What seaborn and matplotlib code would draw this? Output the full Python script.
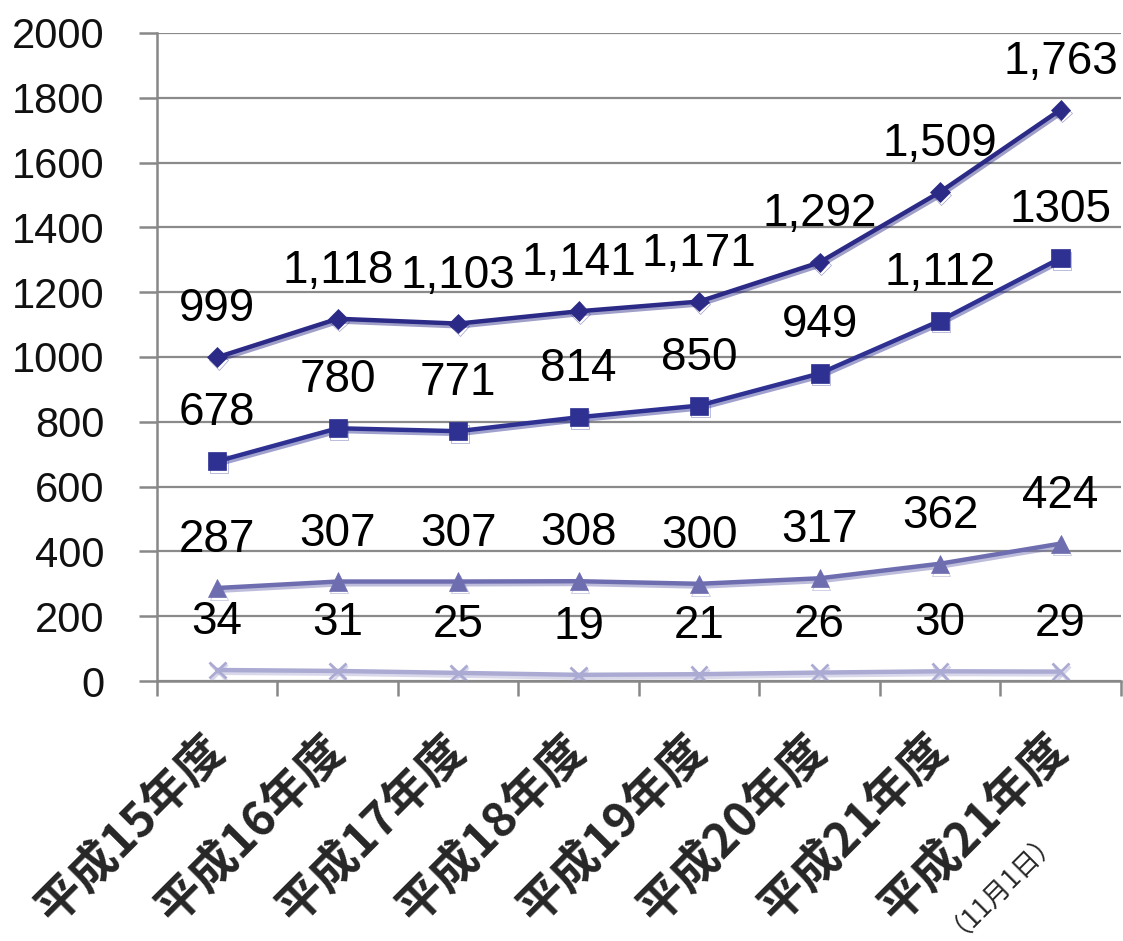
import matplotlib
matplotlib.use("Agg")
import matplotlib.pyplot as plt
import matplotlib.patheffects as pe
from matplotlib.ticker import FixedLocator
import seaborn as sns
import numpy as np

categories = ["平成15年度", "平成16年度", "平成17年度", "平成18年度",
              "平成19年度", "平成20年度", "平成21年度", "平成21年度"]
last_note = "（11月1日）"

series_a = [999, 1118, 1103, 1141, 1171, 1292, 1509, 1763]
series_b = [678, 780, 771, 814, 850, 949, 1112, 1305]
series_c = [287, 307, 307, 308, 300, 317, 362, 424]
series_d = [34, 31, 25, 19, 21, 26, 30, 29]

labels_a = ["999", "1,118", "1,103", "1,141", "1,171", "1,292", "1,509", "1,763"]
labels_b = ["678", "780", "771", "814", "850", "949", "1,112", "1305"]
labels_c = [str(v) for v in series_c]
labels_d = [str(v) for v in series_d]

yticks = [0, 200, 400, 600, 800, 1000, 1200, 1400, 1600, 1800, 2000]

sns.set_theme(style="white")
plt.rcParams['font.family'] = ['Liberation Sans', 'Noto Sans CJK JP', 'DejaVu Sans']

fig = plt.figure(figsize=(11.23, 9.41), dpi=100)
ax = fig.add_axes([0.1398, 0.2763, 0.8582, 0.6887])

x = np.arange(len(categories))
specs = [
    (series_a, labels_a, "D", "#2B2A86", 10),
    (series_b, labels_b, "s", "#2E3192", 13),
    (series_c, labels_c, "^", "#6E6DB0", 13),
    (series_d, labels_d, "x", "#ABAAD3", 12),
]
for vals, labs, mk, col, ms in specs:
    sns.lineplot(x=x, y=vals, ax=ax, color=col, marker=mk, markersize=ms,
                 linewidth=3.2, markeredgecolor=col, markeredgewidth=2 if mk == "x" else 0.5,
                 path_effects=[pe.SimpleLineShadow(offset=(1, -2), shadow_color=col, alpha=0.45),
                               pe.Normal()])
    for xi, v, t in zip(x, vals, labs):
        ax.annotate(t, (xi, v), xytext=(0, 48), textcoords="offset pixels",
                    ha="center", va="center", fontsize=33, color="black",
                    family=['Liberation Sans', 'DejaVu Sans'])

ax.set_xlim(-0.5, len(categories) - 0.5)
ax.set_ylim(0, 2000)
ax.set_yticks(yticks)
ax.set_yticklabels([str(t) for t in yticks], fontsize=30, color="#111111")
ax.set_xticks(x)
ax.set_xticklabels(categories, rotation=45, ha="right", va="center",
                   rotation_mode="anchor", fontsize=34, fontweight="bold",
                   family=['Noto Sans CJK JP', 'DejaVu Sans'])
ax.xaxis.set_minor_locator(FixedLocator(np.arange(-0.5, len(categories), 1.0)))
ax.tick_params(axis="x", which="major", length=0, pad=44)
ax.tick_params(axis="x", which="minor", length=11, width=1.8, color="#888888", direction="out", bottom=True)
ax.tick_params(axis="y", length=13, width=1.8, color="#888888", direction="out", left=True, pad=25)

ax.grid(axis="y", color="#8a8a8a", linewidth=1.6)
ax.grid(axis="x", visible=False)
for s in ["top", "right"]:
    ax.spines[s].set_visible(False)
for s in ["left", "bottom"]:
    ax.spines[s].set_color("#888888")
    ax.spines[s].set_linewidth(1.8)
ax.set_xlabel("")
ax.set_ylabel("")

ax.annotate(last_note, xy=(len(categories) - 1, 0), xycoords=ax.get_xaxis_transform(),
            xytext=(-63, -196), textcoords="offset pixels", rotation=45,
            rotation_mode="anchor", ha="center", va="center", fontsize=19,
            family=['Noto Sans CJK JP', 'DejaVu Sans'], annotation_clip=False)

fig.savefig("out.png", dpi=100)
